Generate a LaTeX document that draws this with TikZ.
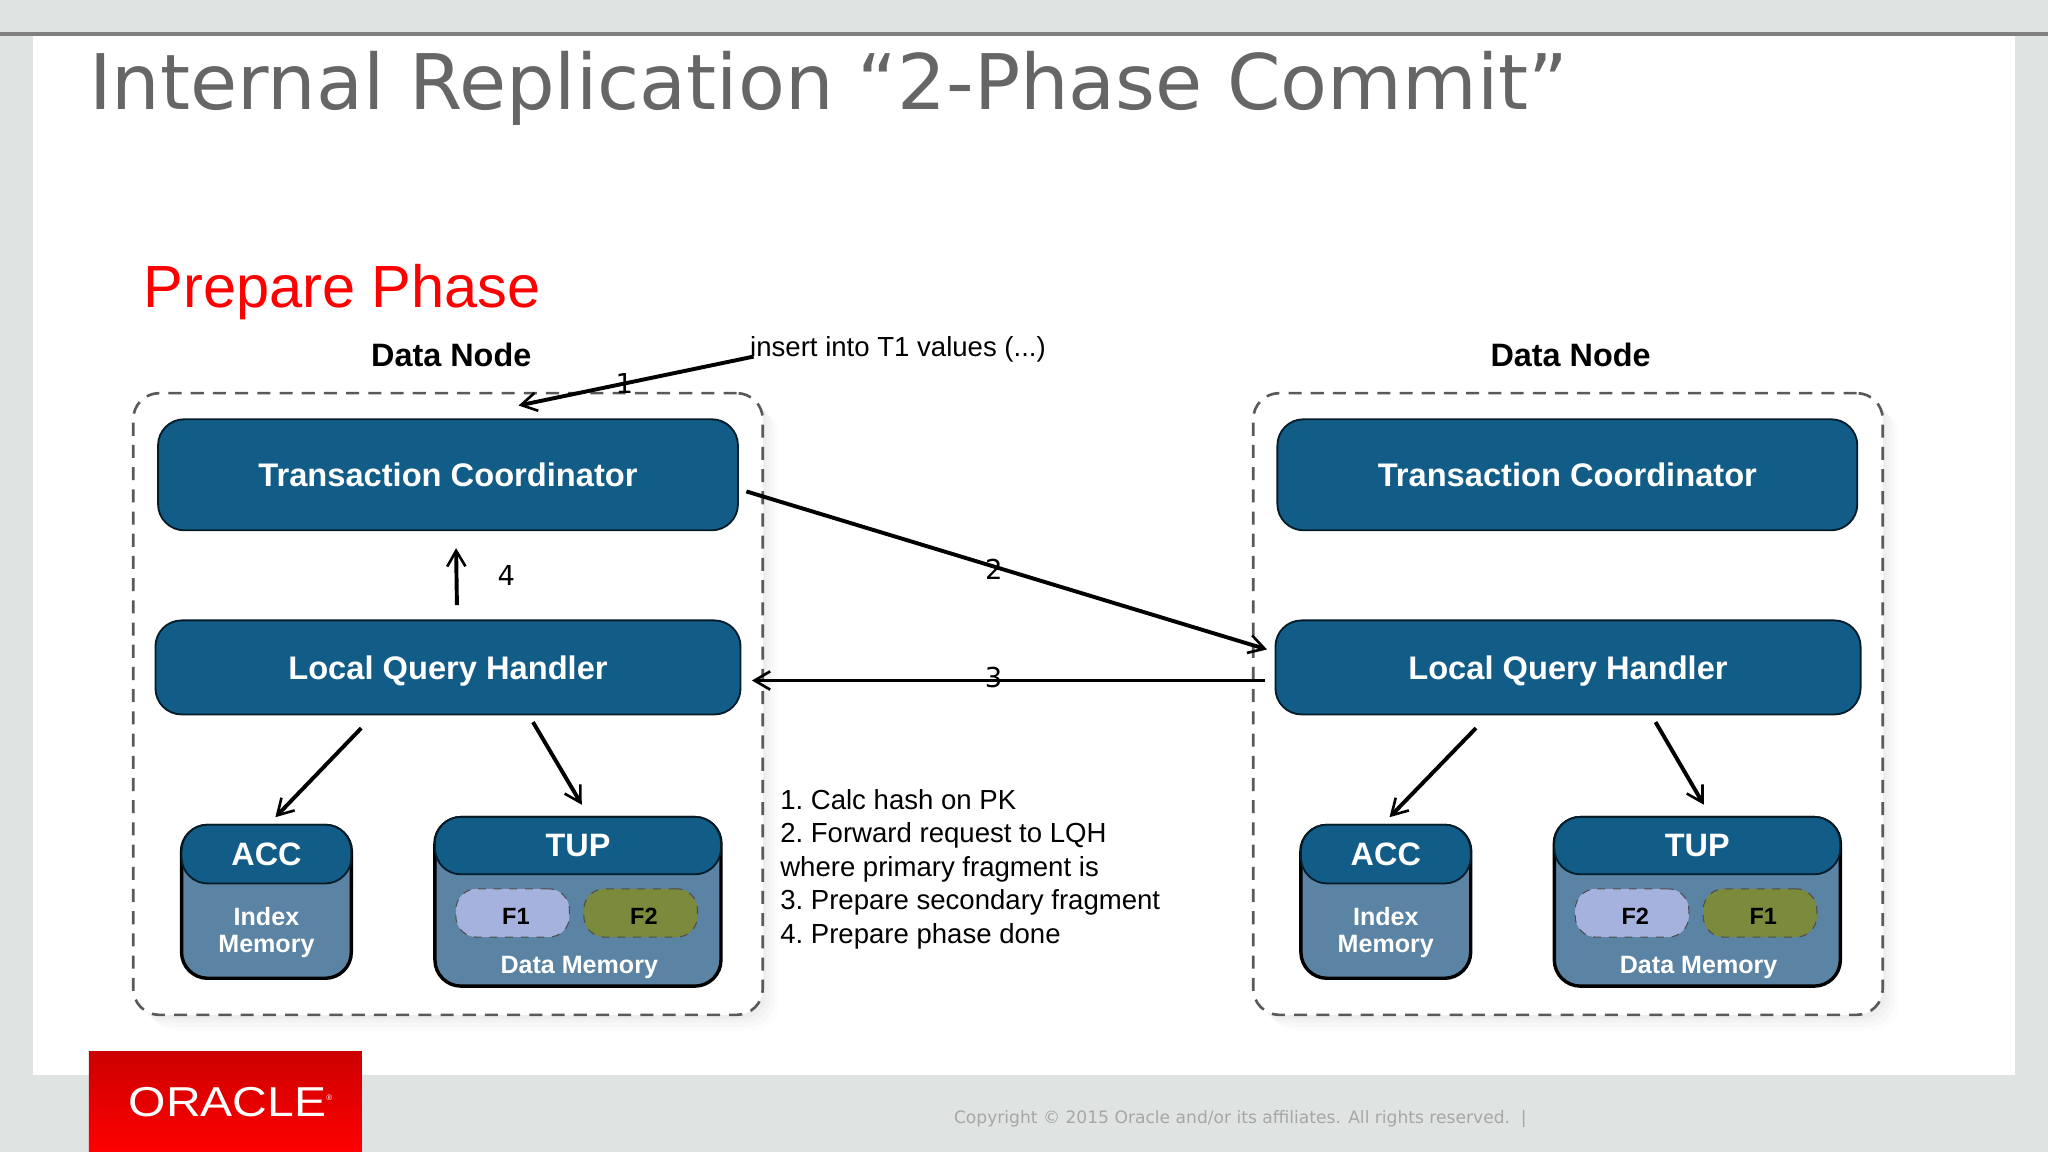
\documentclass[tikz,border=0pt]{standalone}
\usepackage{fontspec}
\setmainfont{DejaVu Sans}
\newfontfamily\arialfont{Liberation Sans}
\usetikzlibrary{positioning, calc, shapes.geometric, arrows.meta, shadows}
\definecolor{pagegrey}{HTML}{DFE4E3}
\definecolor{deepblue}{HTML}{125C88}
\definecolor{paleblue}{HTML}{5B83A4}
\definecolor{lilac}{HTML}{A6B2DE}
\definecolor{olive}{HTML}{7B8A3C}
\tikzstyle{Arrow} = [
%Create custom arrow style:
line width = 1.5pt,
-{Straight Barb[length = 6pt, width = 7pt, line width = 1pt]}
]

\begin{document}
\begin{tikzpicture}[x = 0.5pt, y = -0.5pt,
			datanode/.style = {rectangle, draw = black!65, fill = white, line width = 1pt, dash pattern = on 5pt off 3.5pt, rounded corners = 10pt, minimum width = 241pt, minimum height = 238pt, inner sep = 0pt,
				general shadow = {shadow xshift = 6pt, shadow yshift = -6pt, fill = black, opacity = 0.012},
				general shadow = {shadow xshift = 4.5pt, shadow yshift = -4.5pt, fill = black, opacity = 0.015},
				general shadow = {shadow xshift = 3pt, shadow yshift = -3pt, fill = black, opacity = 0.018},
				general shadow = {shadow xshift = 1.5pt, shadow yshift = -1.5pt, fill = black, opacity = 0.02}},
			bigbox/.style = {rectangle, draw = black!70!deepblue, fill = deepblue, line width = 0.7pt, rounded corners = 10pt, text = white, font = \arialfont\bfseries\fontsize{12.5}{14}\selectfont, text height = 9pt, text depth = 0pt, inner sep = 0pt},
			body/.style = {rectangle, draw = black, fill = paleblue, line width = 1.3pt, rounded corners = 10pt, inner sep = 0pt},
			head/.style = {rectangle, draw = black!70!deepblue, fill = deepblue, line width = 0.7pt, rounded corners = 10pt, text = white, font = \arialfont\bfseries\fontsize{12.4}{14}\selectfont, inner sep = 0pt},
			memory/.style = {text = white, align = center, font = \arialfont\bfseries\fontsize{9.6}{10.2}\selectfont, inner sep = 0pt},
			fragment/.style = {rectangle, draw = black!70, dashed, rounded corners = 8pt, minimum width = 43.5pt, minimum height = 18.5pt, inner sep = 0pt, text height = 9pt, text depth = 0pt, font = \arialfont\bfseries\fontsize{9}{10}\selectfont, execute at begin node = {\hspace*{2.5pt}}},
			caption/.style = {font = \arialfont\bfseries\fontsize{12.4}{14}\selectfont, inner sep = 0pt},
			step label/.style = {font = \fontsize{10.5}{12}\selectfont, inner sep = 0pt},
			note/.style = {font = \arialfont\fontsize{10.55}{12.8}\selectfont, inner sep = 0pt},
		]
		\useasboundingbox (0,0) rectangle (1568,882);

		% slide
		\fill[pagegrey] (0,0) rectangle (1568,882);
		\fill[white] (25,27) rectangle (1543,823);
		\draw[black!50, line width = 1.2pt] (0,26) -- (1568,26);
		\node[text = black!60, font = \fontsize{29.35}{36}\selectfont, inner sep = 0pt, anchor = base west] (title) at (68,84) {Internal Replication “2-Phase Commit”};
		\node[text = red, font = \arialfont\fontsize{22.8}{28}\selectfont, inner sep = 0pt, anchor = base west] (phase) at (109.5,235.5) {Prepare Phase};
		\node[top color = red!80!black, bottom color = red, minimum width = 104.5pt, minimum height = 38.5pt, inner sep = 0pt, text = white, font = \arialfont\fontsize{16}{16}\selectfont] (oracle) at (172.5,843.5) {\hspace*{4pt}\scalebox{1.15}[1]{ORACLE}\raisebox{6pt}{\fontsize{3}{3}\selectfont ®}};
		\node[text = black!35, font = \fontsize{6.55}{8}\selectfont, inner sep = 0pt, anchor = west] (copyright) at (730,857) {Copyright © 2015 Oracle and/or its affiliates. All rights reserved.~~|};

		% left data node
		\node[caption] (capA) at (345.5,272) {Data Node};
		\node[datanode] (dnA) at (343,539) {};
		\node[bigbox, minimum width = 222pt, minimum height = 42.5pt] (tcA) at (343,363.5) {Transaction Coordinator};
		\node[bigbox, minimum width = 224pt, minimum height = 36pt] (lqhA) at (343,511) {Local Query Handler};
		\node[body, minimum width = 65pt, minimum height = 58.5pt] (accA) at (204,690.5) {};
		\node[head, minimum width = 65pt, minimum height = 22.5pt, anchor = north] (acchA) at (accA.north) {ACC};
		\node[memory] (imA) at (204,714) {Index\\Memory};
		\node[body, minimum width = 109.5pt, minimum height = 64.5pt] (tupA) at (442.5,690.5) {};
		\node[head, minimum width = 109.5pt, minimum height = 22pt, anchor = north] (tuphA) at (tupA.north) {TUP};
		\node[fragment, fill = lilac] (f1A) at (392.5,699) {F1};
		\node[fragment, fill = olive] (f2A) at (490.5,699) {F2};
		\node[memory] (dmA) at (443.5,741) {Data Memory};

		% right data node
		\node[caption] (capB) at (1202.5,272) {Data Node};
		\node[datanode] (dnB) at (1200.5,539) {};
		\node[bigbox, minimum width = 222pt, minimum height = 42.5pt] (tcB) at (1200,363.5) {Transaction Coordinator};
		\node[bigbox, minimum width = 224pt, minimum height = 36pt] (lqhB) at (1200.5,511) {Local Query Handler};
		\node[body, minimum width = 65pt, minimum height = 58.5pt] (accB) at (1061,690.5) {};
		\node[head, minimum width = 65pt, minimum height = 22.5pt, anchor = north] (acchB) at (accB.north) {ACC};
		\node[memory] (imB) at (1061,714) {Index\\Memory};
		\node[body, minimum width = 109.5pt, minimum height = 64.5pt] (tupB) at (1299.5,690.5) {};
		\node[head, minimum width = 109.5pt, minimum height = 22pt, anchor = north] (tuphB) at (tupB.north) {TUP};
		\node[fragment, fill = lilac] (f2B) at (1249.5,699) {F2};
		\node[fragment, fill = olive] (f1B) at (1347.5,699) {F1};
		\node[memory] (dmB) at (1300.5,741) {Data Memory};

		% texts between the nodes
		\node[note, anchor = south west] (insert) at (574,278) {insert into T1 values (...)};
		\node[note, anchor = north west, align = left, execute at begin node = {\frenchspacing}] (steps) at (597,604) {1. Calc hash on PK\\2. Forward request to LQH\\where primary fragment is\\3. Prepare secondary fragment\\4. Prepare phase done};

		% requests
		\draw[Arrow, shorten >= 24pt]([shift = {(1.5pt,2.5pt)}]insert.south west)--node[step label, pos = 0.436] {1}([xshift = 3.5pt]tcA.north);
		\draw[Arrow, shorten <= 3pt, shorten >= 3pt]([yshift = -5.5pt]tcA.east)--node[step label, pos = 0.476, yshift = -1pt] {2}([yshift = 6pt]lqhB.west);
		\draw[Arrow, shorten <= 3.5pt, shorten >= 4pt]([yshift = -5pt]lqhB.west)--node[step label, pos = 0.527, yshift = 1pt] {3}([yshift = -5pt]lqhA.east);
		\draw[Arrow, shorten <= 5.5pt, shorten >= 6.5pt]([xshift = 3.5pt]lqhA.north)--node[step label, midway, right = 15pt] {4}([xshift = 3pt]tcA.south);

		% local access
		\draw[Arrow, shorten <= 6.8pt, shorten >= 3.5pt]([xshift = -28.5pt]lqhA.south)--([xshift = 1pt]acchA.north);
		\draw[Arrow, shorten <= 3pt, shorten >= 5pt]([xshift = 31pt]lqhA.south)--([xshift = 4pt]tuphA.north);
		\draw[Arrow, shorten <= 6.8pt, shorten >= 3.5pt]([xshift = -30.5pt]lqhB.south)--([xshift = -1pt]acchB.north);
		\draw[Arrow, shorten <= 3pt, shorten >= 5pt]([xshift = 32pt]lqhB.south)--([xshift = 5pt]tuphB.north);

	\end{tikzpicture}
\end{document}
